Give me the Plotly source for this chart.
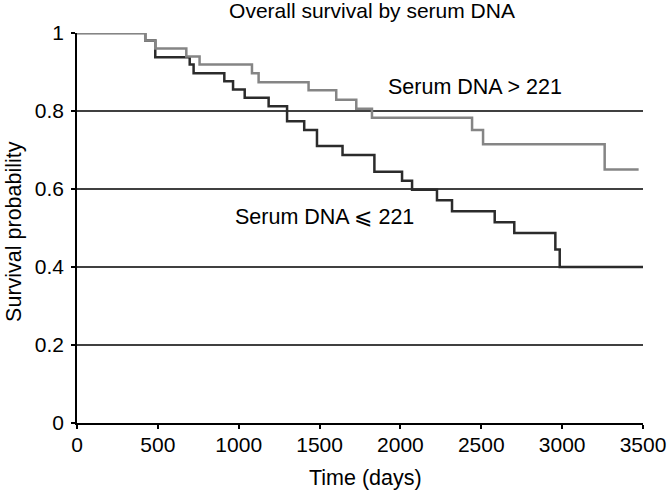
import plotly.graph_objects as go

# Serum DNA > 221 (grey)
high_days = [0, 422, 484, 676, 758, 1082, 1123, 1432, 1603, 1727, 1824, 2443, 2511, 3263, 3473]
high_surv = [1.0, 0.981, 0.96, 0.94, 0.919, 0.897, 0.874, 0.853, 0.829, 0.806, 0.783, 0.751, 0.715, 0.65, 0.65]

# Serum DNA <= 221 (black)
low_days = [0, 422, 484, 697, 721, 911, 965, 1037, 1185, 1299, 1405, 1484, 1642, 1839, 2010,
            2072, 2226, 2319, 2583, 2704, 2958, 2985, 3500]
low_surv = [1.0, 0.981, 0.938, 0.919, 0.897, 0.876, 0.855, 0.834, 0.812, 0.774, 0.751, 0.71,
            0.687, 0.644, 0.621, 0.598, 0.571, 0.543, 0.515, 0.487, 0.445, 0.40, 0.40]

x_ticks = [0, 500, 1000, 1500, 2000, 2500, 3000, 3500]
y_ticks = [0, 0.2, 0.4, 0.6, 0.8, 1]
y_tick_labels = ["0", "0.2", "0.4", "0.6", "0.8", "1"]
grid_levels = [0.2, 0.4, 0.6, 0.8]

FONT = "Liberation Sans, Arial, sans-serif"

fig = go.Figure()
fig.add_trace(go.Scatter(x=low_days, y=low_surv, mode="lines", line_shape="hv",
                         line=dict(color="#2b2b2b", width=2.5), showlegend=False))
fig.add_trace(go.Scatter(x=high_days, y=high_surv, mode="lines", line_shape="hv",
                         line=dict(color="#858585", width=2.5), showlegend=False))

for g in grid_levels:
    fig.add_shape(type="line", xref="paper", x0=0, x1=1, yref="y", y0=g, y1=g,
                  line=dict(color="black", width=1.5), layer="below")

fig.add_annotation(x=2463, y=0.861, text="Serum DNA > 221", showarrow=False,
                   font=dict(size=21.5, color="black", family=FONT))
fig.add_annotation(x=1529, y=0.528, text="Serum DNA \u2a7d 221", showarrow=False,
                   font=dict(size=21.5, color="black", family=FONT))

# axis titles
fig.add_annotation(xref="paper", yref="paper", x=0.5106, y=-0.141, text="Time (days)",
                   showarrow=False, xanchor="center", yanchor="middle",
                   font=dict(size=21.5, color="black", family=FONT))
fig.add_annotation(xref="paper", yref="paper", x=0, xshift=-63, y=0.49,
                   text="Survival probability", textangle=-90, showarrow=False,
                   xanchor="center", yanchor="middle",
                   font=dict(size=21.5, color="black", family=FONT))

fig.update_layout(
    width=671, height=490,
    margin=dict(l=77, r=28, t=33, b=67, autoexpand=False),
    paper_bgcolor="white", plot_bgcolor="white",
    font=dict(family=FONT, size=21, color="black"),
    title=dict(text="Overall survival by serum DNA", x=372 / 671, xref="container",
               xanchor="center", y=1 - 11 / 490, yref="container", yanchor="middle",
               font=dict(size=21, color="black", family=FONT)),
    xaxis=dict(range=[0, 3500], tickvals=x_ticks, showgrid=False, zeroline=False,
               showline=True, linecolor="black", linewidth=1.5, automargin=False,
               ticks="outside", ticklen=4, tickcolor="black", tickwidth=1.5,
               ticklabelstandoff=-2),
    yaxis=dict(range=[0, 1], tickvals=y_ticks, ticktext=y_tick_labels, showgrid=False,
               zeroline=False, showline=True, linecolor="black", linewidth=1.5,
               automargin=False,
               ticks="outside", ticklen=4, tickcolor="black", tickwidth=1.5,
               ticklabelstandoff=3),
)

fig.write_html("out.html", config={"displayModeBar": False},
               post_script="document.body.style.margin='0';document.body.style.overflow='hidden';")
